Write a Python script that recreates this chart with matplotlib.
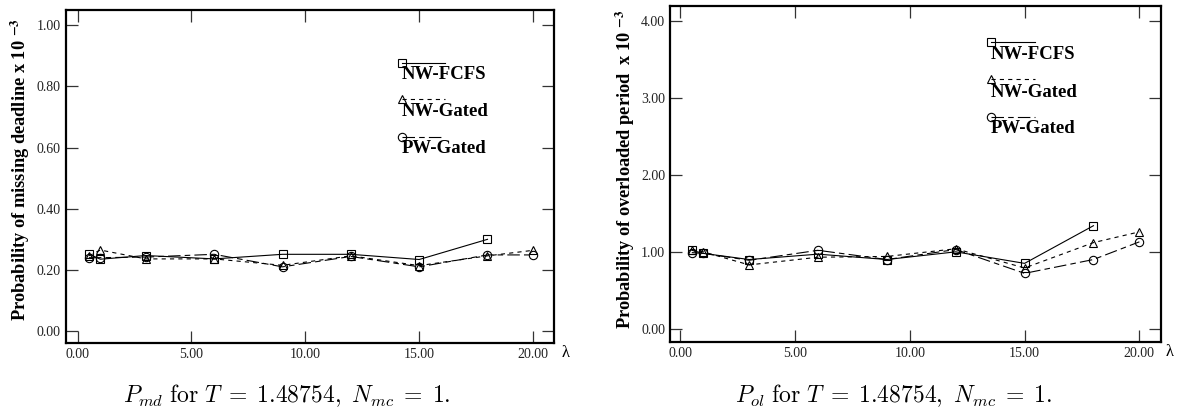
"""Missing-deadline and overloaded-period probabilities vs arrival rate."""

import matplotlib
matplotlib.use("Agg")
import matplotlib.pyplot as plt

plt.rcParams["font.family"] = ["Liberation Serif", "DejaVu Serif"]
plt.rcParams["mathtext.fontset"] = "cm"
plt.rcParams["lines.scale_dashes"] = False

# arrival rates (lambda)
lam_all = [0.5, 1, 3, 6, 9, 12, 15, 18, 20]
lam_fcfs = [0.5, 1, 3, 6, 9, 12, 15, 18]

# P_md x 10^-3
md_nw_fcfs = [0.252, 0.235, 0.247, 0.236, 0.251, 0.251, 0.234, 0.300]
md_nw_gated = [0.246, 0.265, 0.236, 0.236, 0.215, 0.246, 0.214, 0.246, 0.264]
md_pw_gated = [0.240, 0.240, 0.242, 0.251, 0.210, 0.244, 0.210, 0.249, 0.249]

# P_ol x 10^-3
ol_nw_fcfs = [1.02, 0.98, 0.90, 0.97, 0.90, 1.00, 0.85, 1.34]
ol_nw_gated = [1.03, 1.00, 0.83, 0.93, 0.94, 1.04, 0.79, 1.12, 1.26]
ol_pw_gated = [0.99, 0.98, 0.89, 1.02, 0.90, 1.03, 0.72, 0.90, 1.13]

series_names = ["NW-FCFS", "NW-Gated", "PW-Gated"]
styles = [
    dict(marker="s", linestyle="-"),
    dict(marker="^", linestyle=(0, (3, 3))),
    dict(marker="o", linestyle=(0, (9, 3, 4, 3))),
]
common = dict(color="black", lw=0.8, ms=6, mfc="none", mec="black", mew=0.8)


def style_axes(ax, ylim, yticks, xlim):
    ax.set_xlim(*xlim)
    ax.set_ylim(*ylim)
    ax.set_xticks([0, 5, 10, 15, 20])
    ax.set_xticklabels(["0.00", "5.00", "10.00", "15.00", "20.00"])
    ax.set_yticks(yticks)
    ax.set_yticklabels([f"{v:.2f}" for v in yticks])
    ax.tick_params(direction="in", length=8.5, width=0.9, color="#333333",
                   labelsize=10, labelcolor="#222222",
                   top=True, right=True, pad=3.5)
    for s in ax.spines.values():
        s.set_linewidth(1.6)


def draw_legend(ax, x0, x1, ys, ytext):
    for i, name in enumerate(series_names):
        ax.plot([x0, x1], [ys[i], ys[i]], transform=ax.transAxes,
                markevery=[0], clip_on=False, **styles[i], **common)
        ax.text(x0, ytext[i], name, transform=ax.transAxes,
                fontsize=13.5, fontweight="bold", ha="left", va="baseline")


fig = plt.figure(figsize=(11.81, 4.15), dpi=100)
ax1 = fig.add_axes([0.0556, 0.1735, 0.4135, 0.8025])
ax2 = fig.add_axes([0.5673, 0.1752, 0.4157, 0.8096])

# left panel: missing deadline
ax1.plot(lam_fcfs, md_nw_fcfs, **styles[0], **common)
ax1.plot(lam_all, md_nw_gated, **styles[1], **common)
ax1.plot(lam_all, md_pw_gated, **styles[2], **common)
style_axes(ax1, (-0.039, 1.05), [0.0, 0.2, 0.4, 0.6, 0.8, 1.0], (-0.52, 20.92))
ax1.set_ylabel(r"Probability of missing deadline x 10 $^{\mathbf{-3}}$",
               fontsize=13.2, fontweight="bold", math_fontfamily="stix")
ax1.yaxis.set_label_coords(-0.068, 0.52)
draw_legend(ax1, 0.688, 0.777, [0.842, 0.732, 0.620], [0.793, 0.682, 0.571])
ax1.text(1.024, -0.03, "λ", transform=ax1.transAxes, fontsize=12,
         ha="center", va="center")
fig.text(0.2427, 0.046,
         r"$P_{md}\ \mathrm{for}\ T\;=\;1.48754,\ N_{mc}\;=\;1.$",
         ha="center", va="center", fontsize=17)

# right panel: overloaded period
ax2.plot(lam_fcfs, ol_nw_fcfs, **styles[0], **common)
ax2.plot(lam_all, ol_nw_gated, **styles[1], **common)
ax2.plot(lam_all, ol_pw_gated, **styles[2], **common)
style_axes(ax2, (-0.177, 4.195), [0.0, 1.0, 2.0, 3.0, 4.0], (-0.45, 20.94))
ax2.set_ylabel(r"Probability of overloaded period  x 10 $^{\mathbf{-3}}$",
               fontsize=13.2, fontweight="bold", math_fontfamily="stix")
ax2.yaxis.set_label_coords(-0.0674, 0.516)
draw_legend(ax2, 0.653, 0.743, [0.895, 0.784, 0.671], [0.842, 0.731, 0.622])
ax2.text(1.018, -0.03, "λ", transform=ax2.transAxes, fontsize=12,
         ha="center", va="center")
fig.text(0.7565, 0.046,
         r"$P_{ol}\ \mathrm{for}\ T\;=\;1.48754,\ N_{mc}\;=\;1.$",
         ha="center", va="center", fontsize=17)

fig.savefig("out.png", dpi=100)
plt.close(fig)
